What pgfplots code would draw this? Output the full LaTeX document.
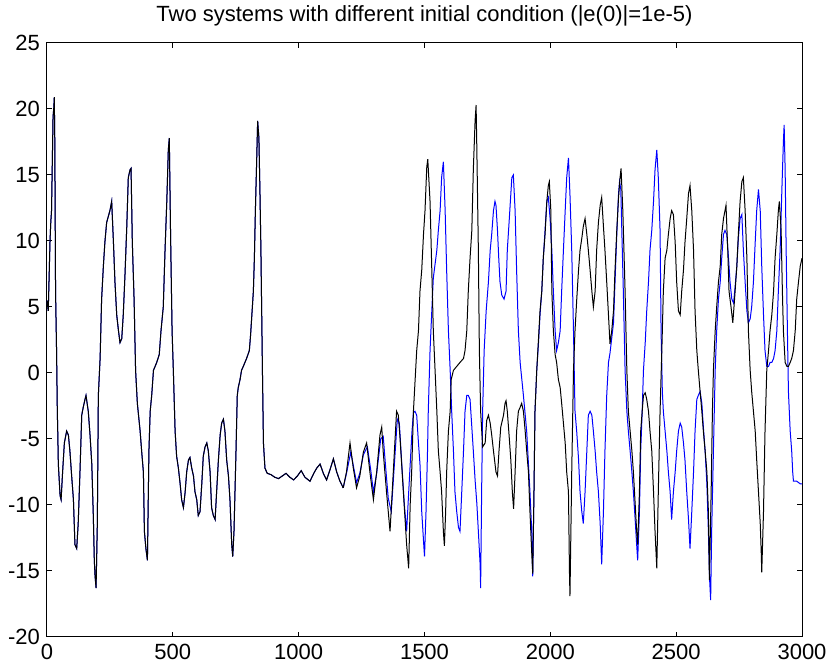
\documentclass[border=0pt]{standalone}
\usepackage{fontspec}
\setmainfont{Liberation Sans}
\usepackage{pgfplots}
\usepackage{pgfplotstable}
\pgfplotsset{compat=1.18}

\pgfplotstableread{
x y
0 5.5
5 4.7
12 10
15 11.4
18 12.3
24 19.4
27 20.1
29 20.9
31 17.5
34 6.2
38 1.7
41 -2.9
43 -4.7
45 -6.9
52 -9.3
56 -9.6
62 -7.5
69 -5.3
78 -4.4
85 -4.7
91 -5.9
98 -7.8
105 -9.6
111 -13
118 -13.3
124 -11.4
131 -7.5
138 -3.2
144 -2.6
151 -2.0
155 -1.7
164 -2.9
171 -4.7
178 -6.9
184 -10.8
188 -14.2
191 -15.4
195 -16.3
200 -11.4
204 -1.7
211 1.1
217 5.6
224 8.1
230 9.9
237 11.4
250 12.3
257 13.0
264 9.9
270 6.9
277 4.4
284 3.2
290 2.3
297 2.6
303 4.4
310 7.5
317 11.1
323 14.8
330 15.4
334 15.5
339 9.9
346 5.6
352 0.2
359 -2.3
370 -4.4
376 -5.9
383 -7.5
387 -12
393 -13.3
399 -14.2
405 -5.9
410 -2.9
416 -1.7
423 0.2
436 0.8
446 1.4
453 3.2
462 5.0
469 9.3
476 13
482 16.9
486 17.8
491 10.5
497 3.2
502 0.2
509 -4.4
515 -6.3
522 -7.2
529 -8.4
535 -9.6
542 -10.2
549 -9.0
555 -7.5
562 -6.6
568 -6.4
575 -7.2
582 -7.8
588 -9.0
595 -9.6
601 -10.8
608 -10.5
615 -8.4
621 -6.3
628 -5.6
635 -5.3
641 -5.9
648 -7.5
654 -10.2
661 -10.8
668 -11.1
674 -9.0
681 -6.6
688 -4.7
694 -3.8
701 -3.5
707 -4.4
714 -6.6
721 -7.8
727 -9.6
734 -13
738 -13.9
743 -12
751 -5.9
756 -1.7
760 -1.1
767 -0.5
773 0.2
780 0.5
793 1.1
804 1.7
809 2.9
816 5.0
820 6.2
824 8.7
828 12.3
833 16
837 19.1
842 17.8
846 13.9
850 9.3
856 0.2
860 -5.3
866 -7.2
875 -7.6
890 -7.7
905 -7.9
920 -8.0
935 -7.8
950 -7.6
965 -7.9
980 -8.1
995 -7.8
1010 -7.4
1025 -7.9
1045 -8.2
1060 -7.6
1072 -7.2
1085 -6.9
1098 -7.6
1111 -8.1
1125 -7.3
1138 -6.5
1151 -7.5
1164 -8.2
1177 -8.7
}\common

\pgfplotstableread{
x y
1177 -8.7
1190 -7.6
1207 -6.0
1217 -7.0
1230 -8.3
1243 -7.6
1257 -6.2
1273 -5.6
1286 -7.3
1297 -9.0
1310 -7.6
1326 -5.0
1336 -4.8
1345 -7.0
1356 -9.5
1368 -10.5
1380 -7.0
1392 -3.5
1400 -3.8
1410 -7.0
1420 -10.0
1429 -12.0
1440 -8.0
1450 -4.5
1456 -3.0
1462 -2.9
1469 -3.2
1476 -5.3
1482 -6.9
1489 -10.5
1496 -12.7
1500 -13.9
1506 -10.5
1512 -5.9
1515 -2.9
1522 1.7
1529 4.7
1535 7.2
1549 9.3
1555 10.8
1562 12.3
1568 14.8
1575 16
1582 12.3
1588 7.8
1595 3.2
1602 0.2
1608 -2.9
1615 -5.9
1621 -9
1628 -10.5
1635 -11.7
1641 -12
1648 -9
1655 -5.9
1661 -2.9
1668 -1.7
1674 -1.7
1681 -2.0
1688 -4.1
1694 -5.9
1701 -8.1
1708 -9.9
1714 -12
1721 -14.5
1723 -16.3
1727 -9
1731 -2.9
1737 1.7
1745 4.7
1754 6.9
1761 9.3
1767 10.5
1774 12.3
1780 13
1784 12.7
1790 10.8
1795 8.7
1800 6.9
1807 5.9
1816 5.6
1824 6.2
1829 9.3
1837 11.7
1847 14.8
1853 15.0
1860 12.3
1866 7.8
1873 3.2
1880 0.8
1893 -1.7
1906 -4.4
1913 -6.9
1919 -9
1926 -12
1930 -15.4
1935 -9
1939 -2.9
1946 0.2
1953 2.3
1959 4.4
1966 6.2
1972 8.7
1979 10.8
1986 13
1992 13.3
1999 11.7
2006 9.3
2012 6.2
2019 3.2
2025 1.7
2032 2.3
2039 3.2
2045 6.2
2052 9.3
2059 12.3
2065 14.8
2072 16.3
2078 13.5
2085 9.3
2092 3.2
2098 -2.9
2105 -4.5
2112 -6.5
2118 -9
2125 -10.5
2131 -11.4
2138 -9
2145 -5.9
2151 -3.2
2158 -2.9
2165 -3.2
2171 -4.4
2178 -5.9
2184 -7.5
2191 -9
2198 -11.4
2204 -14.5
2211 -10.5
2217 -5.9
2224 -1.7
2231 0.8
2237 1.5
2251 3.8
2257 6.9
2264 10.5
2271 13.6
2275 14.5
2280 13.9
2284 10.8
2290 6.2
2297 0.2
2304 -2.9
2310 -4.4
2317 -5.9
2324 -7.5
2330 -9
2337 -11.1
2343 -13
2347 -14.2
2354 -10.5
2359 -5.9
2365 -2.9
2370 0.2
2377 2.3
2383 4.7
2390 6.9
2396 9.3
2403 10.8
2410 13
2416 15.4
2423 16.9
2429 14.8
2436 10.8
2440 3.2
2445 -1.4
2449 -2.9
2456 -4.4
2463 -5.9
2469 -7.5
2476 -9
2482 -11.1
2489 -9
2496 -7.5
2502 -5.9
2509 -4.4
2516 -3.8
2522 -4.1
2529 -5.3
2535 -6.6
2542 -9
2549 -11.1
2555 -13.3
2562 -10.5
2569 -7.5
2575 -4.4
2582 -2
2588 -1.7
2595 -1.4
2602 -2.3
2608 -4.1
2615 -5.9
2622 -8.4
2628 -12
2633 -15.7
2637 -17.2
2641 -12
2648 -5.9
2655 0.2
2661 3.2
2668 5.6
2675 6.9
2681 8.7
2688 10.5
2694 10.8
2701 10.5
2708 8.7
2714 6.9
2721 5.6
2728 5.3
2734 6.5
2741 8.1
2747 10.2
2754 11.7
2761 12
2767 9.3
2774 6.9
2781 4.7
2787 3.8
2794 4.1
2800 5.0
2807 6.9
2814 9.9
2820 12.3
2827 13.9
2834 12.3
2840 8.1
2847 4.4
2853 1.7
2860 0.5
2867 0.5
2873 0.8
2880 0.8
2887 1.1
2893 1.7
2900 3.2
2906 6.2
2913 9.3
2920 13.9
2926 17.5
2929 18.8
2933 15.4
2937 9.3
2942 3.2
2946 -1.4
2953 -4.4
2959 -5.9
2963 -7.5
2966 -8.2
2979 -8.2
2993 -8.4
3000 -8.4
}\blueB

\pgfplotstableread{
x y
1177 -8.7
1190 -7.5
1204 -5.3
1217 -7.2
1230 -8.7
1243 -7.8
1257 -6.0
1270 -5.3
1283 -7.5
1297 -9.6
1310 -7.5
1323 -4.7
1330 -4.1
1336 -6.0
1349 -9.0
1363 -12
1376 -7.5
1389 -2.9
1396 -3.2
1403 -5.0
1416 -9.0
1429 -13.0
1437 -14.8
1443 -10
1449 -7.5
1456 -2.9
1469 1.7
1476 3.2
1482 6.2
1489 7.8
1496 10.5
1502 12.3
1509 15.6
1513 16.2
1522 13
1529 7.8
1535 3.2
1542 0.2
1549 -2.9
1555 -5.9
1562 -7.5
1568 -9
1575 -12
1579 -13.1
1584 -10.5
1588 -7.5
1595 -4.4
1602 -2.9
1606 -0.5
1615 0.2
1628 0.5
1641 0.8
1655 1.1
1661 1.7
1668 3.2
1674 6.2
1681 8.7
1688 10.8
1694 15.4
1701 19.1
1705 20.3
1708 16.9
1714 9.3
1718 1.7
1723 -2.9
1731 -5.6
1741 -5.3
1747 -3.6
1754 -3.2
1761 -3.8
1767 -4.7
1774 -5.9
1784 -7.5
1790 -7.8
1796 -5.9
1803 -4.1
1814 -3.2
1820 -2.3
1824 -2.1
1829 -2.9
1836 -4.7
1843 -6.6
1849 -9
1854 -10.3
1860 -7.5
1866 -4.4
1873 -2.9
1880 -2.6
1886 -2.3
1893 -2.9
1900 -4.4
1906 -5.9
1913 -7.5
1919 -10.5
1926 -13.6
1930 -15.2
1935 -9
1939 -2.9
1946 0.2
1953 2.6
1959 4.7
1966 6.2
1972 8.7
1979 10.5
1986 13
1992 14.2
1996 14.5
2002 12.3
2006 6.2
2012 3.2
2019 1.4
2025 0.8
2032 -0.5
2039 -1.1
2045 -2.3
2052 -3.8
2059 -5.3
2065 -7.5
2072 -9
2076 -15.1
2078 -16.9
2085 -7.5
2092 0.2
2098 3.2
2105 5.6
2112 7.8
2118 9.3
2125 10.2
2131 11.1
2138 11.7
2145 10.5
2151 9.3
2158 7.8
2165 6.2
2171 5.0
2178 6.2
2184 9.3
2191 11.4
2198 12.7
2204 13.3
2211 11.1
2217 9.3
2224 6.9
2231 4.4
2237 2.2
2244 3.2
2251 4.7
2257 7.8
2264 10.8
2271 13.3
2277 14.8
2281 15.5
2288 12.3
2297 6.2
2304 0.2
2310 -2.9
2317 -4.4
2324 -5.9
2330 -7.5
2337 -9.9
2343 -12
2347 -13
2354 -9
2359 -4.4
2365 -2.9
2370 -1.7
2377 -1.5
2383 -2.0
2390 -2.9
2396 -4.4
2403 -5.9
2410 -9
2416 -12
2423 -14.8
2429 -9
2436 -2.9
2443 1.7
2449 6.2
2456 8.7
2463 9.3
2469 10.5
2476 11.7
2482 12.3
2489 12.0
2496 9.9
2502 6.9
2509 4.7
2516 4.4
2522 6.2
2529 7.8
2535 9.9
2542 11.7
2549 13.6
2555 14.2
2562 12.3
2569 9.3
2575 4.7
2582 1.7
2588 0.2
2595 -1.4
2602 -2.9
2608 -4.4
2615 -5.9
2622 -7.5
2628 -10.5
2632 -15.7
2639 -9
2644 -2.9
2648 0.2
2655 3.2
2661 5.0
2668 6.9
2675 8.1
2681 10.5
2688 11.7
2694 12.3
2698 12.7
2705 9.3
2710 6.2
2718 5.0
2725 3.8
2732 5.6
2741 8.1
2747 10.5
2754 13
2761 14.5
2767 14.8
2774 12.3
2781 8.7
2787 3.2
2794 0.2
2800 -1.4
2807 -2.9
2814 -4.4
2820 -6.6
2827 -9
2834 -11.4
2838 -13.6
2840 -15.1
2847 -10.5
2853 -4.4
2860 0.2
2867 1.7
2873 3.2
2880 4.4
2887 6.2
2893 8.7
2900 10.5
2906 12.3
2910 13
2917 10.8
2922 6.2
2926 3.2
2933 0.8
2940 0.5
2946 0.5
2953 0.8
2959 1.1
2966 1.7
2973 3.2
2979 5.6
2986 6.9
2993 8.1
3000 8.7
}\blackB

\begin{document}
\begin{tikzpicture}
\begin{axis}[
  scale only axis,
  width=377.5pt, height=297pt,
  xmin=0, xmax=3000, ymin=-20, ymax=25,
  xtick={0,500,...,3000},
  ytick={-20,-15,...,25},
  tick align=inside,
  major tick length=2.5pt,
  xtick pos=both, ytick pos=both,
  axis line style={black, line width=0.5pt},
  every tick/.style={black, line width=0.5pt},
  tick label style={font=\fontsize{11}{13}\selectfont},
  /pgf/number format/assume math mode=true,
  scaled ticks=false,
  xticklabel style={/pgf/number format/1000 sep={}},
  title={Two systems with different initial condition (|e(0)|=1e-5)},
  title style={font=\fontsize{11}{13}\selectfont, yshift=-1pt},
  clip=true,
]
\addplot[blue, line width=0.5pt] table[x=x,y=y] {\common};
\addplot[blue, line width=0.5pt] table[x=x,y=y] {\blueB};
\addplot[black, line width=0.5pt] table[x=x,y=y] {\common};
\addplot[black, line width=0.5pt] table[x=x,y=y] {\blackB};
\end{axis}
\pgfresetboundingbox
\path[use as bounding box] ([shift={(-23.5pt,-16.5pt)}]current axis.south west) rectangle ([shift={(13pt,21.5pt)}]current axis.north east);
\end{tikzpicture}
\end{document}
